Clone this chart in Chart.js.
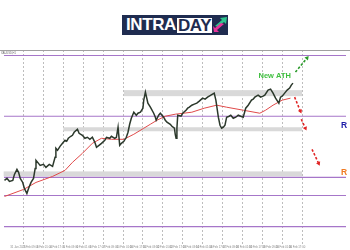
<!DOCTYPE html>
<html><head><meta charset="utf-8">
<script src="https://cdn.jsdelivr.net/npm/chart.js@4/dist/chart.umd.min.js"></script>
<style>
html,body{margin:0;padding:0;background:#fff;width:350px;height:250px;overflow:hidden;}
#wrap{position:relative;width:350px;height:250px;}
#c{position:absolute;left:0;top:0;}
#logo{position:absolute;left:122px;top:15px;width:106px;height:20px;background:#1f2c50;display:flex;align-items:center;font-family:"Liberation Sans",Arial,sans-serif;font-weight:bold;font-size:17px;letter-spacing:-0.4px;z-index:2;}
#logo .a{color:#fff;margin-left:4px;line-height:14px;}
#logo .b{background:#fff;color:#1f2c50;margin-left:1px;padding:0 1px 0 1px;line-height:15px;height:15px;}
#logo svg{margin-left:1px;}
</style></head>
<body><div id="wrap">
<canvas id="c" width="350" height="250"></canvas>
<div id="logo"><span class="a">INTRA</span><span class="b">DAY</span>
<svg width="14" height="16" viewBox="0 0 14 16"><polygon points="2,9 9,3 7,1 14,0 13,7 11,5 5,10" fill="#2fc48d"/><polygon points="1,15 0,9 2,11 8,6 11,7 4,13 6,15" fill="#e8339a"/></svg></div>
</div>
<script>
// price path (hours from first gridline, price)
const hours = [-23,-20,-17,-13,-11,-8,-6,-4,-1,1,4,6,9,12,14,15,18,20,24,27,31,35,38,39,41,44,47,50,52,54,57,59,61,65,67,71,74,77,80,83,86,88,91,94,98,100,104,106,110,112,114,116,118,121,124,126,128,130,132,133,136,138,141,144,145,147,150,153,157,159,160,163,165,169,171,173,177,179,182,183,184,185,186,190,192,196,198,200,203,206,209,212,216,219,222,224,226,230,232,235,237,239,241,243,245,248,250,253,256,259,262,265,268,271,275,277,279,283,286,289,291,295,298,301,304,308,310,312,315,318,321,323,325];
const prices = [2820,2822,2819,2820,2826,2831,2828,2822,2818,2812,2807,2812,2818,2822,2832,2840,2837,2835,2836,2833,2836,2834,2843,2852,2850,2854,2857,2860,2859,2862,2864,2865,2868,2871,2867,2865,2862,2863,2861,2863,2858,2853,2855,2857,2860,2863,2862,2864,2862,2863,2873,2855,2857,2859,2863,2868,2876,2882,2886,2888,2885,2887,2888,2892,2900,2908,2897,2893,2887,2883,2880,2885,2887,2883,2880,2878,2876,2874,2872,2866,2862,2872,2885,2884,2887,2890,2892,2893,2895,2896,2897,2899,2902,2901,2903,2904,2905,2907,2900,2883,2875,2872,2873,2875,2883,2884,2885,2882,2883,2885,2884,2883,2892,2895,2900,2901,2903,2905,2903,2904,2905,2910,2911,2907,2902,2897,2903,2904,2907,2910,2912,2915,2917];
// moving average
const maHours = [-23,0,15,35,50,59,71,83,94,106,121,133,145,153,161,171,183,203,218,233,245,265,285,292,301,312,322];
const maValues = [2804,2811,2818,2824,2830,2838,2847,2857,2862,2861,2861,2866,2872,2876,2880,2884,2886,2888,2892,2895,2893,2890,2887,2890,2895,2900,2902];
// horizontal levels
const levels = [2944.5, 2884, 2823, 2805, 2774];
// grey zones
const zoneStart = [121, 48, -24];
const zoneEnd = [336, 336, 336];
const zoneTop = [2910, 2873, 2829];
const zoneBottom = [2904, 2869, 2824];
// projection arrows
const arrowFrom = [[328,2928],[327,2903],[335,2881],[348,2851]];
const arrowTo = [[342,2942],[334,2889],[340,2872],[356,2837]];
const arrowColors = ['#2a9a2a','#e02424','#e02424','#e02424'];
// x tick labels (every 16 h starting at -16)
const tickLabels = ["31 Jan 2025","3 Feb 09:00","4 Feb 01:00","4 Feb 17:00","5 Feb 09:00","6 Feb 01:00","6 Feb 17:00","7 Feb 09:00","10 Feb 01:00","10 Feb 17:00","11 Feb 09:00","12 Feb 01:00","12 Feb 17:00","13 Feb 09:00","14 Feb 01:00","14 Feb 17:00","17 Feb 09:00","18 Feb 01:00","18 Feb 17:00","19 Feb 09:00","20 Feb 01:00","20 Feb 17:00"];
// annotations
const notes = [
  {text:"New ATH", x:303, y:2924, color:'#3fbf3f', size:7.5, align:'center'},
  {text:"R", x:383, y:2874.5, color:'#1c1ca8', size:8.5, align:'left'},
  {text:"R", x:383, y:2827.5, color:'#f07a22', size:8.5, align:'left'}
];
const X_MIN = -23.6, X_MAX = 389;

const datasets = [];
arrowFrom.forEach((a,i)=>{
  datasets.push({
    data:[{x:a[0],y:a[1]},{x:arrowTo[i][0],y:arrowTo[i][1]}],
    borderColor:arrowColors[i], backgroundColor:arrowColors[i], borderWidth:1.6,
    borderDash:[2.5,1.8], pointStyle:'triangle', pointRadius:[0,2.6], pointBorderWidth:0,
    pointRotation:(ctx)=>{const c=ctx.chart, d=ctx.dataset.data; if(!c.scales||!c.scales.x) return 0;
      const sx=c.scales.x, sy=c.scales.y;
      const dx=sx.getPixelForValue(d[1].x)-sx.getPixelForValue(d[0].x);
      const dy=sy.getPixelForValue(d[1].y)-sy.getPixelForValue(d[0].y);
      return Math.atan2(dx,-dy)*180/Math.PI;},
    order:0
  });
});
datasets.push({data:hours.map((h,i)=>({x:h,y:prices[i]})), borderColor:'#2b382b', borderWidth:1.5, pointRadius:0, order:1});
datasets.push({data:maHours.map((h,i)=>({x:h,y:maValues[i]})), borderColor:'#e04a4a', borderWidth:1, pointRadius:0, order:2});
levels.forEach(lv=>datasets.push({data:[{x:X_MIN,y:lv},{x:X_MAX,y:lv}], borderColor:'#a676c9', borderWidth:1.1, pointRadius:0, order:3}));

const deco = {
  id:'deco',
  beforeDatasetsDraw(chart){
    const {ctx, chartArea, scales:{x,y}} = chart;
    ctx.save();
    ctx.fillStyle='#d9d9d9';
    zoneStart.forEach((s,i)=>{
      const x0=x.getPixelForValue(s), x1=x.getPixelForValue(zoneEnd[i]);
      const y0=y.getPixelForValue(zoneTop[i]), y1=y.getPixelForValue(zoneBottom[i]);
      ctx.fillRect(x0,y0,x1-x0,y1-y0);
    });
    ctx.strokeStyle='#a0a0a0'; ctx.lineWidth=1;
    ctx.beginPath(); ctx.moveTo(0,chartArea.top+0.5); ctx.lineTo(350,chartArea.top+0.5); ctx.stroke();
    ctx.fillStyle='#666'; ctx.font='2.6px "Liberation Sans"'; ctx.textBaseline='top';
    ctx.fillText('XAUUSD,H1', 1, chartArea.top+1.5);
    ctx.restore();
  },
  afterDatasetsDraw(chart){
    const {ctx, scales:{x,y}} = chart;
    ctx.save();
    notes.forEach(n=>{
      ctx.fillStyle=n.color; ctx.font='bold '+n.size+'px "Liberation Sans"';
      ctx.textAlign=n.align; ctx.textBaseline='middle';
      ctx.fillText(n.text, x.getPixelForValue(n.x), y.getPixelForValue(n.y));
    });
    ctx.restore();
  }
};

new Chart(document.getElementById('c'), {
  type:'line',
  data:{datasets},
  options:{
    responsive:false, animation:false, devicePixelRatio:1,
    layout:{padding:{top:50,left:0,right:0,bottom:0}},
    plugins:{legend:{display:false}, tooltip:{enabled:false}},
    scales:{
      x:{type:'linear', min:X_MIN, max:X_MAX,
        afterBuildTicks:(s)=>{const t=[]; for(let v=-16; v<=336; v+=8) t.push({value:v}); s.ticks=t;},
        grid:{drawTicks:false, lineWidth:1, color:(c)=>{const v=c.tick?c.tick.value:NaN; return (v%24===0 && v>=0 && v<=336)?'#bdbdbd':'rgba(0,0,0,0)';}},
        border:{display:false, dash:[2,2]},
        ticks:{autoSkip:false, maxRotation:0, minRotation:0, align:'start', padding:1, color:'#8a8a8a',
          font:{size:2.8, family:'"Liberation Sans"'},
          callback:(v)=>{ if(v%16!==0) return ''; const i=(v+16)/16; return tickLabels[i]||''; }}
      },
      y:{display:false, min:2756, max:2950}
    }
  },
  plugins:[deco]
});
</script>
</body></html>
